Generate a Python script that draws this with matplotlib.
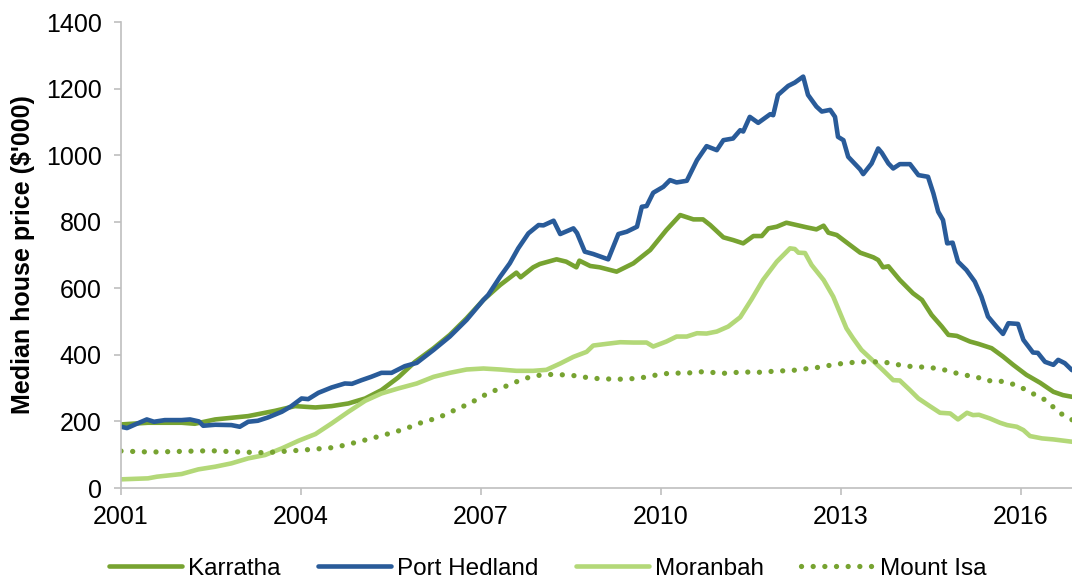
import matplotlib
matplotlib.use("Agg")
import matplotlib.pyplot as plt

plt.rcParams['font.family'] = ['Liberation Sans', 'DejaVu Sans']

# ---------------- data (decimal years, $'000) ----------------
hedland_x = [2001.0, 2001.1, 2001.25, 2001.43, 2001.55, 2001.73, 2002.01, 2002.15, 2002.3, 2002.37,
             2002.57, 2002.84, 2002.98, 2003.12, 2003.28, 2003.45, 2003.68, 2003.84, 2004.01, 2004.12,
             2004.29, 2004.51, 2004.73, 2004.85, 2005.01, 2005.17, 2005.34, 2005.51, 2005.73, 2005.93,
             2006.21, 2006.48, 2006.76, 2006.9, 2007.04, 2007.12, 2007.32, 2007.48, 2007.62, 2007.79,
             2007.96, 2008.04, 2008.21, 2008.32, 2008.54, 2008.6, 2008.73, 2008.87, 2009.12, 2009.29,
             2009.43, 2009.6, 2009.68, 2009.76, 2009.87, 2010.04, 2010.15, 2010.26, 2010.43, 2010.6,
             2010.76, 2010.93, 2011.04, 2011.2, 2011.32, 2011.37, 2011.48, 2011.62, 2011.82, 2011.87,
             2011.95, 2012.12, 2012.23, 2012.37, 2012.45, 2012.59, 2012.68, 2012.82, 2012.9, 2012.95,
             2013.04, 2013.12, 2013.32, 2013.37, 2013.51, 2013.62, 2013.68, 2013.79, 2013.87, 2013.98,
             2014.15, 2014.29, 2014.45, 2014.54, 2014.62, 2014.7, 2014.77, 2014.86, 2014.95, 2015.09,
             2015.23, 2015.34, 2015.45, 2015.59, 2015.7, 2015.79, 2015.95, 2016.04, 2016.2, 2016.28,
             2016.4, 2016.54, 2016.62, 2016.73, 2016.85]
hedland_y = [184, 180, 192, 206, 199, 204, 204, 206, 200, 187,
             190, 189, 184, 199, 202, 212, 229, 246, 269, 267,
             286, 302, 314, 313, 324, 334, 346, 346, 366, 376,
             415, 455, 505, 535, 565, 580, 635, 675, 720, 765,
             790, 789, 803, 763, 780, 766, 710, 703, 687, 763,
             770, 785, 845, 847, 887, 905, 925, 918, 923, 985,
             1027, 1015, 1045, 1050, 1075, 1071, 1115, 1097, 1123, 1120,
             1181, 1208, 1218, 1236, 1181, 1146, 1131, 1136, 1115, 1055,
             1045, 995, 957, 943, 975, 1020, 1007, 975, 960, 973,
             973, 940, 935, 885, 830, 805, 735, 737, 680, 655,
             620, 575, 515, 485, 463, 495, 493, 445, 407, 406,
             379, 370, 385, 375, 354]

karratha_x = [2001.0, 2001.45, 2002.01, 2002.23, 2002.57, 2003.12, 2003.57, 2003.9, 2004.24, 2004.51,
              2004.79, 2005.07, 2005.34, 2005.62, 2005.9, 2006.21, 2006.48, 2006.76, 2007.04, 2007.32,
              2007.59, 2007.66, 2007.87, 2007.98, 2008.26, 2008.42, 2008.59, 2008.64, 2008.82, 2008.98,
              2009.26, 2009.54, 2009.82, 2010.09, 2010.32, 2010.54, 2010.7, 2010.82, 2011.04, 2011.2,
              2011.37, 2011.54, 2011.68, 2011.79, 2011.93, 2012.09, 2012.26, 2012.43, 2012.59, 2012.71,
              2012.79, 2012.93, 2013.15, 2013.32, 2013.54, 2013.62, 2013.7, 2013.79, 2013.98, 2014.2,
              2014.35, 2014.51, 2014.68, 2014.79, 2014.93, 2015.15, 2015.29, 2015.51, 2015.7, 2015.87,
              2016.09, 2016.32, 2016.54, 2016.7, 2016.85]
karratha_y = [191, 196, 196, 193, 206, 216, 232, 246, 242, 246,
              254, 269, 294, 332, 379, 420, 460, 510, 565, 610,
              647, 633, 663, 673, 687, 680, 663, 683, 667, 663,
              650, 675, 715, 775, 820, 807, 807, 790, 753, 745,
              735, 757, 757, 780, 785, 797, 790, 783, 777, 788,
              767, 760, 730, 707, 693, 685, 663, 666, 625, 585,
              565, 520, 485, 460, 457, 440, 433, 420, 395, 370,
              340, 316, 289, 279, 274]

moranbah_x = [2001.0, 2001.45, 2001.6, 2002.01, 2002.29, 2002.57, 2002.84, 2003.12, 2003.4, 2003.68,
              2003.96, 2004.24, 2004.51, 2004.79, 2005.07, 2005.34, 2005.62, 2005.93, 2006.21, 2006.48,
              2006.76, 2007.04, 2007.32, 2007.59, 2007.87, 2008.09, 2008.32, 2008.54, 2008.76, 2008.87,
              2009.09, 2009.32, 2009.54, 2009.76, 2009.87, 2010.09, 2010.26, 2010.43, 2010.6, 2010.76,
              2010.93, 2011.12, 2011.32, 2011.51, 2011.7, 2011.93, 2012.15, 2012.23, 2012.29, 2012.4,
              2012.51, 2012.71, 2012.87, 2013.09, 2013.2, 2013.34, 2013.5, 2013.7, 2013.87, 2013.98,
              2014.15, 2014.29, 2014.48, 2014.65, 2014.82, 2014.95, 2015.1, 2015.2, 2015.3, 2015.48,
              2015.65, 2015.77, 2015.93, 2016.04, 2016.15, 2016.35, 2016.54, 2016.85]
moranbah_y = [26, 29, 34, 42, 56, 64, 74, 89, 99, 119,
              142, 162, 194, 229, 262, 284, 299, 314, 334, 346,
              356, 359, 356, 352, 352, 355, 374, 394, 409, 428,
              433, 438, 437, 437, 425, 440, 455, 455, 465, 464,
              470, 485, 513, 567, 625, 680, 720, 718, 707, 706,
              670, 625, 575, 480, 450, 415, 388, 354, 324, 323,
              294, 269, 246, 226, 224, 206, 226, 219, 220, 209,
              196, 189, 184, 174, 156, 149, 146, 139]

isa_x = [2001.0, 2001.5, 2002.0, 2002.5, 2003.0, 2003.4, 2003.79, 2004.18, 2004.57, 2004.96,
         2005.32, 2005.71, 2006.0, 2006.3, 2006.62, 2006.79, 2006.96, 2007.13, 2007.32, 2007.5,
         2007.68, 2007.87, 2008.07, 2008.26, 2008.46, 2008.65, 2008.84, 2009.03, 2009.23, 2009.42,
         2009.62, 2009.81, 2010.01, 2010.2, 2010.4, 2010.6, 2010.79, 2010.98, 2011.18, 2011.37,
         2011.57, 2011.76, 2011.95, 2012.15, 2012.34, 2012.54, 2012.73, 2012.93, 2013.12, 2013.32,
         2013.51, 2013.7, 2013.9, 2014.1, 2014.29, 2014.48, 2014.68, 2014.86, 2015.05, 2015.23,
         2015.42, 2015.6, 2015.79, 2015.97, 2016.15, 2016.32, 2016.47, 2016.6, 2016.77, 2016.85]
isa_y = [111, 108, 110, 112, 108, 106, 111, 116, 122, 139,
         156, 176, 196, 212, 239, 252, 269, 286, 299, 312,
         326, 336, 341, 341, 339, 336, 329, 329, 326, 328,
         329, 336, 342, 346, 344, 349, 349, 344, 346, 349,
         347, 349, 352, 352, 357, 360, 366, 372, 376, 379,
         379, 379, 372, 366, 364, 362, 357, 348, 339, 336,
         322, 323, 316, 306, 287, 274, 256, 231, 212, 205]

x_ticks = [2001, 2004, 2007, 2010, 2013, 2016]
y_ticks = [0, 200, 400, 600, 800, 1000, 1200, 1400]

c_karratha = '#77A331'
c_hedland = '#295B99'
c_moranbah = '#B3D878'

# ---------------- figure ----------------
fig = plt.figure(figsize=(10.72, 5.81), dpi=100)
ax = fig.add_axes([121 / 1072, 1 - 488 / 581, 1 - 121 / 1072, (488 - 22) / 581])

ax.plot(karratha_x, karratha_y, color=c_karratha, lw=3.3, label='Karratha',
        solid_joinstyle='round', solid_capstyle='round')
ax.plot(hedland_x, hedland_y, color=c_hedland, lw=3.3, label='Port Hedland',
        solid_joinstyle='round', solid_capstyle='round')
ax.plot(moranbah_x, moranbah_y, color=c_moranbah, lw=3.3, label='Moranbah',
        solid_joinstyle='round', solid_capstyle='round')
ax.plot(isa_x, isa_y, color=c_karratha, lw=3.8, linestyle=(0, (0.01, 2.2)),
        dash_capstyle='round', label='Mount Isa')

ax.set_xlim(2001, 2016.85)
ax.set_ylim(0, 1400)
ax.set_xticks(x_ticks)
ax.set_xticklabels([str(t) for t in x_ticks])
ax.set_yticks(y_ticks)
ax.set_yticklabels([str(t) for t in y_ticks])

for s in ['top', 'right']:
    ax.spines[s].set_visible(False)
for s in ['left', 'bottom']:
    ax.spines[s].set_color('#BFBFBF')
    ax.spines[s].set_linewidth(1.2)

ax.tick_params(axis='x', direction='out', length=5, width=1.2, color='#BFBFBF',
               labelsize=18, pad=7, labelcolor='#000000')
ax.tick_params(axis='y', direction='out', length=5, width=1.2, color='#BFBFBF',
               labelsize=18, pad=9, labelcolor='#000000')

ax.set_ylabel("Median house price ($'000)", fontsize=18, fontweight='bold')
ax.yaxis.set_label_coords(-0.09, 0.5)

fig.legend(loc='center', bbox_to_anchor=(0.511, 0.021), ncol=4, frameon=False,
           fontsize=17.5, handlelength=3.0, handletextpad=0.25, columnspacing=1.55,
           borderaxespad=0, borderpad=0)

fig.savefig('out.png', dpi=100)
